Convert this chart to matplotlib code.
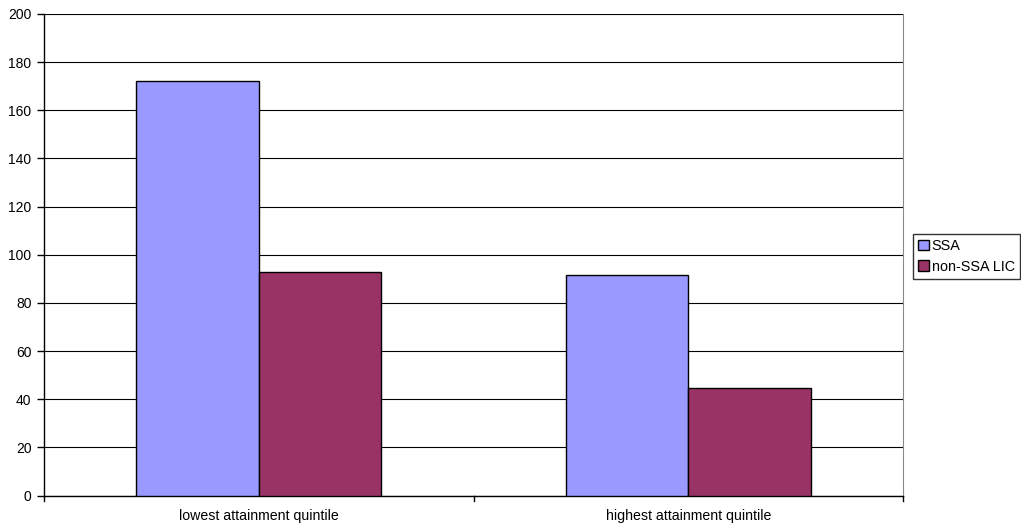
import matplotlib
matplotlib.use("Agg")
import matplotlib.pyplot as plt
import numpy as np

categories = ["lowest attainment quintile", "highest attainment quintile"]
series_names = ["SSA", "non-SSA LIC"]
ssa = [172, 91.5]
non_ssa = [93, 44.5]
yticks = [0, 20, 40, 60, 80, 100, 120, 140, 160, 180, 200]

plt.rcParams['font.family'] = ['Liberation Sans', 'DejaVu Sans']

fig = plt.figure(figsize=(10.21, 5.29), dpi=100)
W, H = 1021, 529
x0, x1, ytop, ybot = 44, 903, 14, 495.5
ax = fig.add_axes([x0 / W, 1 - ybot / H, (x1 - x0) / W, (ybot - ytop) / H])

x = np.arange(len(categories))
bw = 1 / 3.5
ax.bar(x - bw / 2, ssa, bw, color="#9999FF", edgecolor="black", linewidth=1, label=series_names[0], zorder=3)
ax.bar(x + bw / 2, non_ssa, bw, color="#993366", edgecolor="black", linewidth=1, label=series_names[1], zorder=3)

ax.set_xlim(-0.5, len(categories) - 0.5)
ax.set_ylim(0, 200)
ax.set_yticks(yticks)
ax.set_yticklabels([str(t) for t in yticks], fontsize=10)
ax.yaxis.grid(True, color="black", linewidth=0.8, zorder=0)
ax.set_axisbelow(True)

ax.set_xticks(x)
ax.set_xticklabels(categories, fontsize=10.2)
ax.tick_params(axis='x', length=0, pad=10)
for b in [-0.5, 0.5, 1.5]:
    ax.plot([b, b], [0, -0.012], transform=ax.get_xaxis_transform(), color="black", lw=1, clip_on=False)
ax.tick_params(axis='y', length=5, width=1, color="black", pad=4)

ax.spines['top'].set_visible(False)
ax.spines['right'].set_color("#888888")
ax.spines['left'].set_color("black")
ax.spines['bottom'].set_color("black")
ax.spines['left'].set_linewidth(1)
ax.spines['bottom'].set_linewidth(1)

leg = ax.legend(loc="upper left", bbox_to_anchor=(913 / W, 1 - 234 / H), bbox_transform=fig.transFigure,
                frameon=True, fancybox=False, edgecolor="black", fontsize=10.4,
                handlelength=0.75, handleheight=0.75, handletextpad=0.2, borderpad=0.35,
                labelspacing=0.45, borderaxespad=0)
leg.get_frame().set_linewidth(1)

fig.savefig("out.png", dpi=100)
